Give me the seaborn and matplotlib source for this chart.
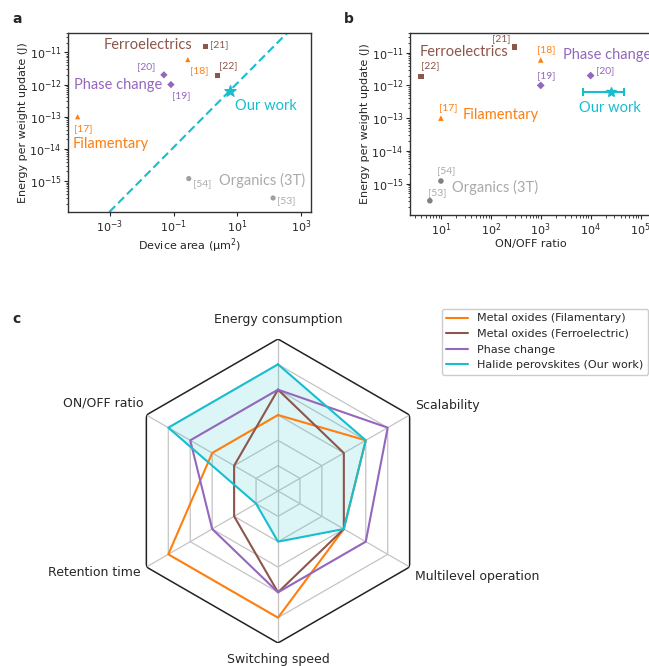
import numpy as np
import pandas as pd
import seaborn as sns
import matplotlib.pyplot as plt

W, H, DPI = 649, 666, 100

# literature devices (panels a and b)
refs = ["[17]", "[18]", "[19]", "[20]", "[21]", "[22]", "[53]", "[54]"]
ref_class = ["Filamentary", "Filamentary", "Phase change", "Phase change",
             "Ferroelectrics", "Ferroelectrics", "Organics (3T)", "Organics (3T)"]
area_um2 = [1e-4, 0.28, 0.083, 0.05, 1.0, 2.4, 130, 0.3]
onoff_ratio = [10, 1e3, 1e3, 1e4, 300, 4, 6, 10]
energy_J = [1e-13, 6e-12, 1e-12, 2e-12, 1.5e-11, 1.9e-12, 3e-16, 1.2e-15]

# this work
our_area = 5.8
our_energy = 6.5e-13
our_onoff = 2.6e4
our_onoff_range = [7e3, 4.7e4]

# radar (panel c)
radar_axes = ["Energy consumption", "Scalability", "Multilevel operation",
              "Switching speed", "Retention time", "ON/OFF ratio"]
radar_series = ["Metal oxides (Filamentary)", "Metal oxides (Ferroelectric)",
                "Phase change", "Halide perovskites (Our work)"]
radar_filamentary = [3, 4, 3, 5, 5, 3]
radar_ferroelectric = [4, 3, 3, 4, 2, 2]
radar_phase = [4, 5, 4, 4, 3, 4]
radar_ours = [5, 4, 3, 2, 1, 5]

ORANGE, BROWN, PURPLE, CYAN = "#ff7f0e", "#8c564b", "#9467bd", "#17becf"
class_colors = {"Filamentary": ORANGE, "Ferroelectrics": BROWN,
                "Phase change": PURPLE, "Organics (3T)": "#a0a0a0"}
class_markers = {"Filamentary": "^", "Ferroelectrics": "s",
                 "Phase change": "D", "Organics (3T)": "o"}
label_grey = "#aaaaaa"

sns.set_style("ticks")
plt.rcParams["font.family"] = ["DejaVu Sans"]
plt.rcParams["font.size"] = 8
plt.rcParams["xtick.labelsize"] = 8
plt.rcParams["ytick.labelsize"] = 8
plt.rcParams["axes.edgecolor"] = "#333333"
ANN_FONT = ["Lato", "DejaVu Sans"]

fig = plt.figure(figsize=(W / DPI, H / DPI), dpi=DPI)


def box(left, top, right, bottom):
    return [left / W, 1 - bottom / H, (right - left) / W, (bottom - top) / H]


refs_df = pd.DataFrame({"ref": refs, "cls": ref_class, "area": area_um2,
                        "onoff": onoff_ratio, "energy": energy_J})


def style_log_axes(ax):
    ax.set_xscale("log")
    ax.set_yscale("log")
    ax.set_ylim(1.1e-16, 4e-11)
    ax.set_ylabel("Energy per weight update (J)", fontsize=8, labelpad=1)
    for s in ax.spines.values():
        s.set_visible(True)
        s.set_linewidth(1.0)
    ax.tick_params(which="major", length=3, width=0.8, pad=1.5)
    ax.tick_params(which="minor", length=1.8, width=0.6)


def ann(ax, txt, x, y, color, size, ha="left"):
    ax.text(x, y, txt, color=color, fontsize=size, ha=ha, va="center",
            family=ANN_FONT)


# ---------- panel a ----------
axa = fig.add_axes(box(68, 33, 311, 212))
sns.scatterplot(data=refs_df, x="area", y="energy", hue="cls", style="cls",
                palette=class_colors, markers=class_markers, s=14,
                linewidth=0, legend=False, ax=axa)
axa.scatter([our_area], [our_energy], marker="*", s=70, color=CYAN, zorder=3)
axa.axline((our_area, our_energy), (our_area * 10, our_energy * 10),
           color=CYAN, ls=(0, (4, 2)), lw=1.5, zorder=1)
style_log_axes(axa)
axa.set_xlim(5e-5, 2e3)
axa.set_xlabel("Device area (\u00b5m$^2$)", fontsize=8, labelpad=1)
axa.set_xticks([1e-3, 1e-1, 1e1, 1e3])

ann(axa, "Ferroelectrics", 10 ** -0.42, 1.7e-11, BROWN, 10.5, ha="right")
ann(axa, "[21]", 1.4, 1.7e-11, BROWN, 7.5)
ann(axa, "[20]", 0.028, 3.5e-12, PURPLE, 7.5, ha="right")
ann(axa, "[18]", 0.32, 2.7e-12, ORANGE, 7.5)
ann(axa, "[22]", 2.6, 3.8e-12, BROWN, 7.5)
ann(axa, "Phase change", 0.043, 1e-12, PURPLE, 10.5, ha="right")
ann(axa, "[19]", 0.087, 4.7e-13, PURPLE, 7.5)
ann(axa, "Our work", 8.5, 2.1e-13, CYAN, 10.5)
ann(axa, "[17]", 7.6e-5, 4.4e-14, ORANGE, 7.5)
ann(axa, "Filamentary", 7e-5, 1.4e-14, ORANGE, 10.5)
ann(axa, "[54]", 0.40, 8.3e-16, label_grey, 7.5)
ann(axa, "Organics (3T)", 2.7, 1.05e-15, label_grey, 10.5)
ann(axa, "[53]", 178, 2.5e-16, label_grey, 7.5)

# ---------- panel b ----------
axb = fig.add_axes(box(410, 33, 652, 215))
b_colors = dict(class_colors)
b_colors["Organics (3T)"] = "#808080"
sns.scatterplot(data=refs_df, x="onoff", y="energy", hue="cls", style="cls",
                palette=b_colors, markers=class_markers, s=16,
                linewidth=0, legend=False, ax=axb)
axb.errorbar([our_onoff], [our_energy],
             xerr=[[our_onoff - our_onoff_range[0]], [our_onoff_range[1] - our_onoff]],
             fmt="*", ms=7, color=CYAN, capsize=3, lw=1.5, capthick=1.5)
style_log_axes(axb)
axb.set_xlim(2.4, 1.7e5)
axb.set_xlabel("ON/OFF ratio", fontsize=8, labelpad=1)
axb.set_xticks([1e1, 1e2, 1e3, 1e4, 1e5])

ann(axb, "[22]", 4.0, 3.9e-12, BROWN, 7.5)
ann(axb, "Ferroelectrics", 3.7, 1.05e-11, BROWN, 10.5)
ann(axb, "[21]", 105, 2.7e-11, BROWN, 7.5)
ann(axb, "[18]", 860, 1.2e-11, ORANGE, 7.5)
ann(axb, "Phase change", 2.75e3, 8.3e-12, PURPLE, 10.5)
ann(axb, "[19]", 860, 2e-12, PURPLE, 7.5)
ann(axb, "[20]", 1.3e4, 2.9e-12, PURPLE, 7.5)
ann(axb, "Our work", 5.9e3, 2.1e-13, CYAN, 10.5)
ann(axb, "[17]", 9, 2.1e-13, ORANGE, 7.5)
ann(axb, "Filamentary", 27.5, 1.23e-13, ORANGE, 10.5)
ann(axb, "[54]", 8.3, 2.5e-15, label_grey, 7.5)
ann(axb, "Organics (3T)", 16.6, 7.6e-16, label_grey, 10.5)
ann(axb, "[53]", 5.4, 5.4e-16, label_grey, 7.5)

# ---------- panel c (radar) ----------
axc = fig.add_axes(box(126, 339, 430, 643), projection="polar")
n = len(radar_axes)
theta = np.linspace(0, 2 * np.pi, n, endpoint=False)
theta_closed = np.append(theta, 2 * np.pi)
axc.set_theta_offset(np.pi / 2)
axc.set_theta_direction(-1)
axc.set_ylim(0, 6)
axc.grid(False)
axc.spines["polar"].set_visible(False)
axc.set_xticks([])
axc.set_yticks([])
axc.patch.set_alpha(0)

for r in range(1, 6):
    axc.plot(theta_closed, [r] * (n + 1), color="#c4c4c4", lw=0.9, zorder=1)
for t in theta:
    axc.plot([t, t], [0, 6], color="#c4c4c4", lw=0.9, zorder=1)
axc.plot(theta_closed, [6] * (n + 1), color="#222222", lw=1.1, zorder=1)

radar_values = [radar_filamentary, radar_ferroelectric, radar_phase, radar_ours]
radar_colors = dict(zip(radar_series, [ORANGE, BROWN, PURPLE, CYAN]))
radar_df = pd.concat([
    pd.DataFrame({"theta": theta_closed, "value": vals + vals[:1], "series": name})
    for name, vals in zip(radar_series, radar_values)
])
sns.lineplot(data=radar_df, x="theta", y="value", hue="series", units="series",
             estimator=None, sort=False, palette=radar_colors, lw=1.5,
             legend=False, ax=axc, zorder=3)
axc.fill(theta_closed, radar_ours + radar_ours[:1], color=CYAN, alpha=0.15,
         lw=0, zorder=2)
axc.set_xlabel("")
axc.set_ylabel("")

label_offsets = [(0, 19, "center"), (5, 9, "left"), (5, -10, "left"),
                 (0, -17, "center"), (-6, -6, "right"), (-3, 12, "right")]
for t, lab, (dx, dy, ha) in zip(theta, radar_axes, label_offsets):
    axc.annotate(lab, xy=(t, 6), xytext=(dx, dy), textcoords="offset pixels",
                 ha=ha, va="center", fontsize=9, annotation_clip=False)

handles = [plt.Line2D([], [], color=radar_colors[s], lw=1.5) for s in radar_series]
fig.legend(handles, radar_series, loc="upper right", fontsize=8,
           bbox_to_anchor=(648 / W, 1 - 309 / H), frameon=True,
           framealpha=1, edgecolor="#cccccc", borderaxespad=0)

# panel letters
for letter, x, y in [("a", 12, 19), ("b", 344, 19), ("c", 12, 319)]:
    fig.text(x / W, 1 - y / H, letter, fontsize=10, fontweight="bold",
             ha="left", va="center")

fig.savefig("out.png", dpi=DPI)
